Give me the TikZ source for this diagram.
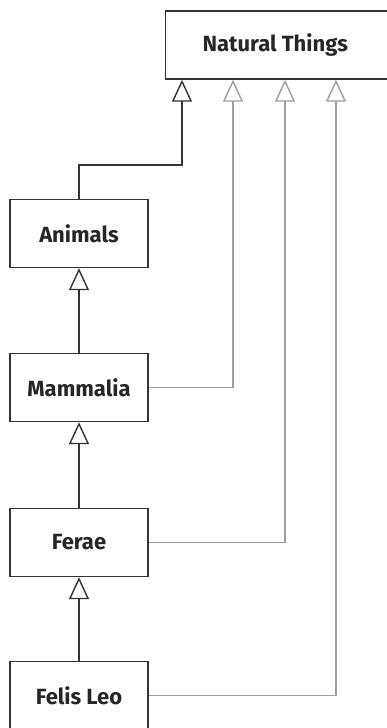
\documentclass[tikz,border=0pt]{standalone}
\usepackage{fontspec}
\setsansfont{Fira Sans}
\usetikzlibrary{arrows.meta,positioning,calc}

\begin{document}
\begin{tikzpicture}[x=1pt,y=-1pt,
  box/.style={draw=black!80,line width=1.4pt,fill=white,minimum width=138pt,
    minimum height=68pt,inner sep=0pt,font=\sffamily\bfseries\fontsize{22}{26}\selectfont,
    text=black!85},
  isa/.style={line width=1.4pt,draw=black!80,
    -{Triangle[open,length=22pt,width=20pt,fill=white]}},
  isagray/.style={isa,draw=black!38}]
  \useasboundingbox (0,0) rectangle (387,728);

  % classes
  \node[box,minimum width=235pt,anchor=west] (natural) at (165,45) {\hspace*{-16pt}Natural Things};
  \node[box] (animals) at (79,233.5) {Animals};
  \node[box] (mammalia) at (79,387.5) {Mammalia};
  \node[box] (ferae) at (79,542.5) {Ferae};
  \node[box] (felis) at (79,695.5) {Felis Leo};

  % direct parents
  \draw[isa] (animals.north) -- ++(0,-34) -| ([xshift=17pt]natural.south west);
  \draw[isa] (mammalia.north) -- (animals.south);
  \draw[isa] (ferae.north) -- (mammalia.south);
  \draw[isa] (felis.north) -- (ferae.south);

  % shortcuts to the root
  \draw[isagray] (mammalia.east) -| ([xshift=68pt]natural.south west);
  \draw[isagray] (ferae.east) -| ([xshift=120pt]natural.south west);
  \draw[isagray] (felis.east) -| ([xshift=171pt]natural.south west);
\end{tikzpicture}
\end{document}
